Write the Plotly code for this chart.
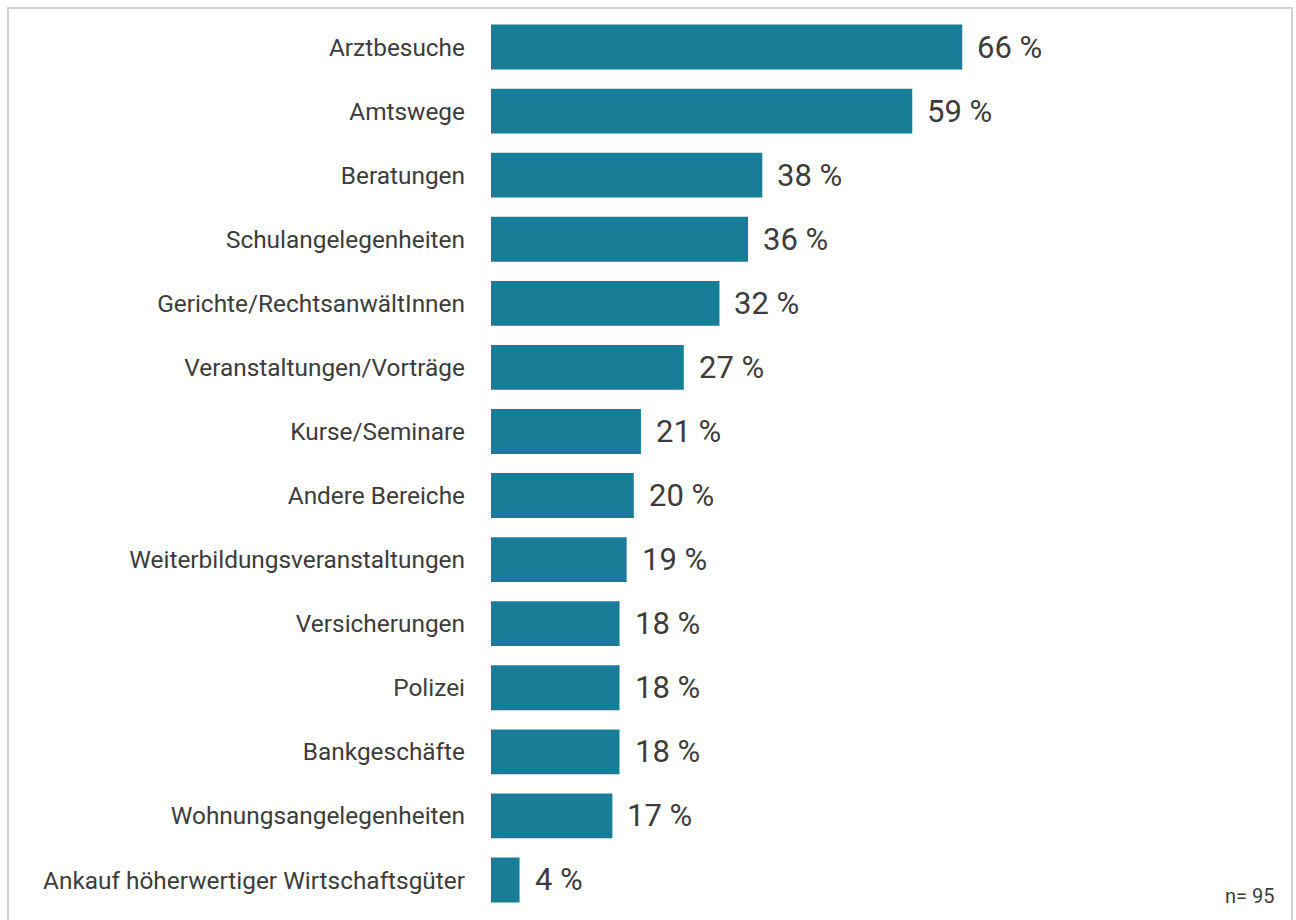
import plotly.graph_objects as go

categories = [
    "Arztbesuche",
    "Amtswege",
    "Beratungen",
    "Schulangelegenheiten",
    "Gerichte/RechtsanwältInnen",
    "Veranstaltungen/Vorträge",
    "Kurse/Seminare",
    "Andere Bereiche",
    "Weiterbildungsveranstaltungen",
    "Versicherungen",
    "Polizei",
    "Bankgeschäfte",
    "Wohnungsangelegenheiten",
    "Ankauf höherwertiger Wirtschaftsgüter",
]
values = [66, 59, 38, 36, 32, 27, 21, 20, 19, 18, 18, 18, 17, 4]
sample_note = "n= 95"

BAR_COLOR = "#187d96"
TEXT_COLOR = "#3c3c3c"
FONT = "Roboto, Arial, sans-serif"

W, H = 1296, 920
ML, MR, MT, MB = 491, 91, 15, 8
XMAX = 100

fig = go.Figure(
    go.Bar(
        x=values,
        y=categories,
        orientation="h",
        marker=dict(color=BAR_COLOR, line=dict(width=0)),
        hoverinfo="skip",
    )
)

# value labels to the right of each bar
for cat, v in zip(categories, values):
    fig.add_annotation(
        x=v, y=cat, xref="x", yref="y",
        text=f"{v} %", showarrow=False,
        xanchor="left", yanchor="middle", xshift=13,
        font=dict(family=FONT, size=31, color=TEXT_COLOR),
    )

# sample size in the lower right corner
fig.add_annotation(
    x=(1276 - ML) / (W - ML - MR), y=(H - 918) / (H - MT - MB),
    xref="paper", yref="paper", text=sample_note, showarrow=False,
    xanchor="right", yanchor="bottom",
    font=dict(family=FONT, size=20, color=TEXT_COLOR),
)

# light grey frame around the chart
pw, ph = W - ML - MR, H - MT - MB
fig.add_shape(
    type="rect", xref="paper", yref="paper",
    x0=(8 - ML) / pw, x1=(1292 - ML) / pw,
    y0=(H - MB - 960) / ph, y1=(H - MB - 8) / ph,
    line=dict(color="#d2d2d2", width=2), fillcolor="rgba(0,0,0,0)",
    layer="below",
)

fig.update_layout(
    width=W, height=H,
    margin=dict(l=ML, r=MR, t=MT, b=MB, pad=0),
    paper_bgcolor="white", plot_bgcolor="white",
    bargap=0.3,
    showlegend=False,
    font=dict(family=FONT, color=TEXT_COLOR),
    xaxis=dict(range=[0, XMAX], visible=False, fixedrange=True),
    yaxis=dict(
        autorange="reversed", showgrid=False, zeroline=False, showline=False,
        ticks="", ticklabelstandoff=25,
        tickfont=dict(family=FONT, size=24.4, color=TEXT_COLOR),
        fixedrange=True,
    ),
)

fig.write_html("out.html", config={"displayModeBar": False})
